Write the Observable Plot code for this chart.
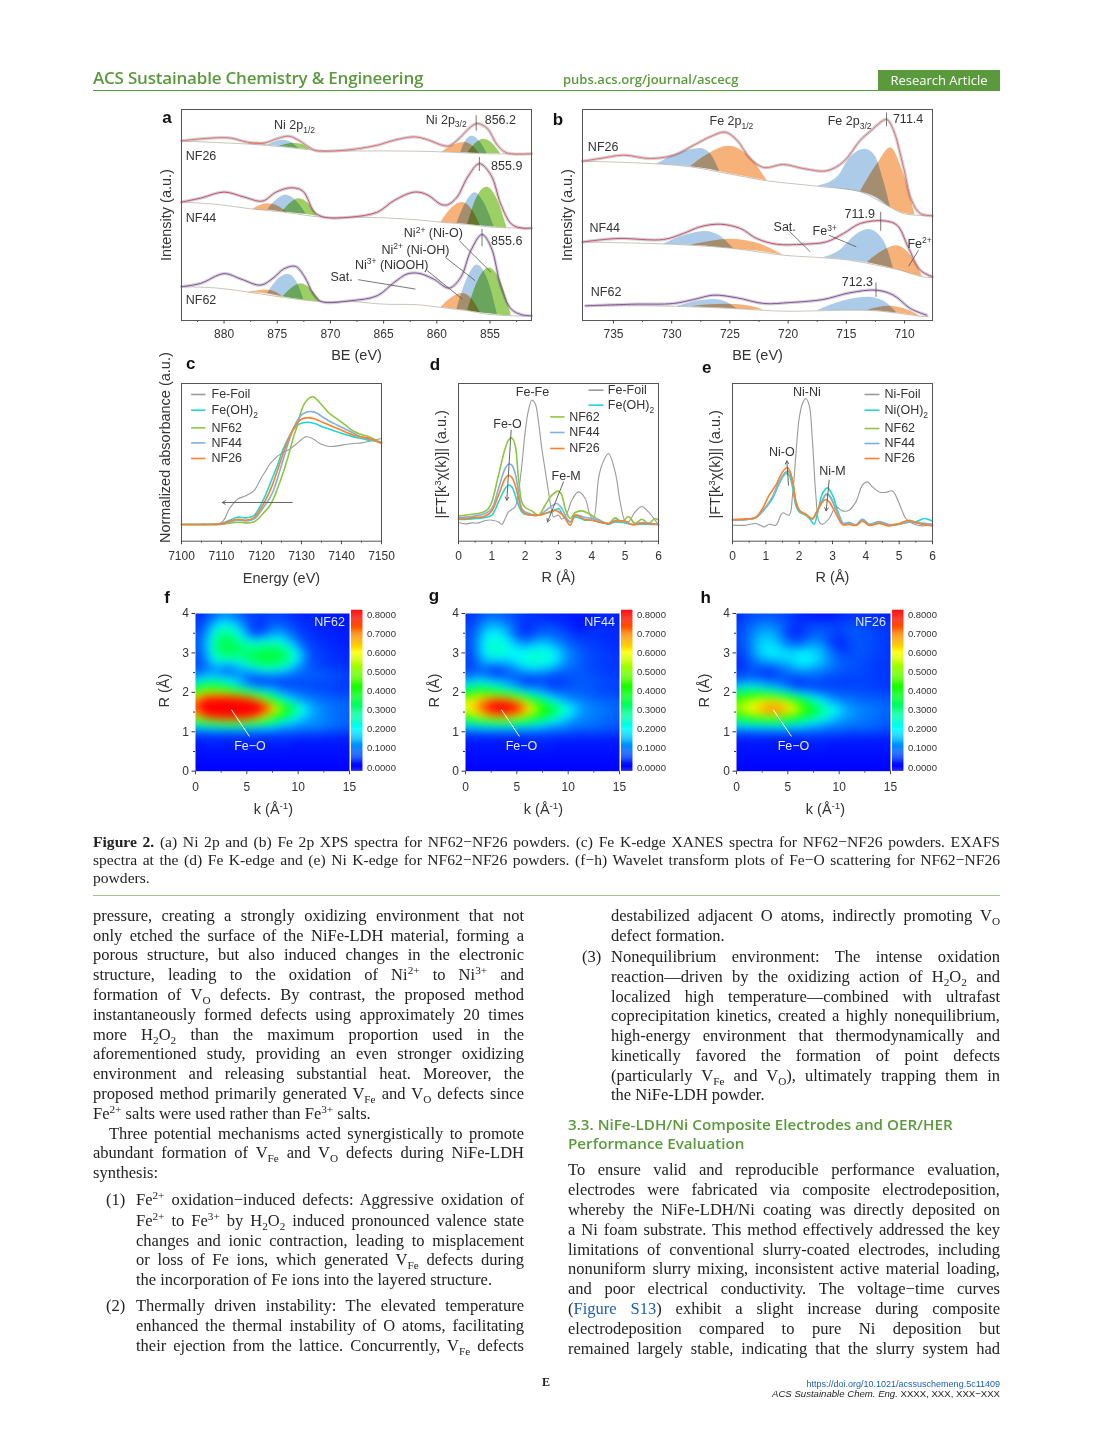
<!DOCTYPE html>
<html><head><meta charset="utf-8">
<script src="https://cdn.jsdelivr.net/npm/d3@7"></script>
<script src="https://cdn.jsdelivr.net/npm/@observablehq/plot@0.6"></script>
<style>
html,body{margin:0;padding:0;background:#fff;}
#page{position:relative;width:1094px;height:1442px;overflow:hidden;background:#fff;}
.p{position:absolute;}
.p svg{display:block;overflow:visible;}
.ln{position:absolute;white-space:nowrap;font-family:"Liberation Serif",serif;color:#222;}
.ln sub,.ln sup{font-size:.68em;line-height:0;}
.j{text-align:justify;text-align-last:justify;}
.let{position:absolute;font:bold 17px "Liberation Sans",sans-serif;color:#111;transform:translate(-50%,-50%);}
</style></head><body><div id="page"></div>
<script>
/* ---------- panel a: Ni 2p XPS, [BE, intensity] or [BE, background, peak top] ---------- */
const ni62Env=[[884,33.7],[882.2,37],[880,46.7],[878.4,41.3],[876.55,35.3],[875.3,43],[874.4,51.3],[873.3,54],[872.5,44.7],[871.5,24.7],[870.8,18.7],[868.1,19.7],[865.6,24.7],[864,38],[862.8,46.3],[861.7,47],[860.3,41.3],[858.85,32.3],[857.75,43],[856.8,69.7],[855.75,85.7],[854.9,73],[853.95,33],[853,11.3],[852,5.7],[851.1,4.7]];
const ni62Base=[[884,33.7],[880.6,32.3],[877.5,28],[874.4,23],[870.8,18.7],[868.1,19],[865,16.3],[861.8,15.7],[859.6,13],[857.1,9.7],[855.25,6.3],[853,4.7],[851.1,4.7]];
const ni62Blue1=[[875.9,27,27],[875,25,40],[874,23,46],[873.2,21.7,39],[872.5,20.7,20.7]];
const ni62Green1=[[874.5,23.3,23.3],[873.6,21.9,32.5],[872.7,20.5,36.7],[871.9,19.5,31.9],[870.9,18.7,18.7]];
const ni62Orange1=[[877.8,28,28],[876.9,27.3,29.5],[876,26.5,30.5],[875.2,25,28.5],[874.4,23,23]];
const ni62Blue2=[[858.1,11.3,11.3],[857.1,9.7,42.5],[856.2,8.3,55.3],[855.25,7,41.8],[854.3,6,6]];
const ni62Green2=[[857.1,9.7,9.7],[856.1,8,39.9],[855.1,6.7,52.3],[854,5.3,39],[853,4.7,4.7]];
const ni62Orange2=[[859.6,13,13],[858.6,11.8,22.7],[857.6,10.5,27],[856.75,9.3,22],[855.9,7.7,7.7]];

const ni44Env=[[884,118],[882.2,122],[880,128],[878.1,123],[876.4,119],[875.1,128],[873.7,132.3],[872.6,129],[871.5,108],[870.6,103],[868.1,103],[865.6,108],[864,119.7],[862.1,128],[860.9,125.3],[859.6,115.7],[859,115.3],[858.1,123],[857.1,143],[856,156.3],[854.9,144.7],[854,116.3],[853,96.3],[852.1,92.3],[851.1,92]];
const ni44Base=[[884,118],[880.6,115.7],[877.5,111.3],[874.4,108],[870.8,103],[868.1,103],[865,102.3],[861.8,100.3],[859.6,98],[857.1,95.7],[854.9,93],[853,92.3],[851.1,92]];
const ni44Blue1=[[875.9,110.3,110.3],[875,109,120.5],[874.2,108,125],[873.3,107,120],[872.3,106.3,106.3]];
const ni44Green1=[[874.5,108.3,108.3],[873.7,107.5,117.4],[873,106.5,121.3],[872.1,105.5,116.9],[871.2,104,104]];
const ni44Orange1=[[877.3,111,111],[876.6,110,114.5],[875.9,109.7,116.3],[875,109,114.2],[874,107.3,107.3]];
const ni44Blue2=[[858.1,97,97],[857.2,96,118.5],[856.4,95,127.3],[855.6,94,118],[854.6,93,93]];
const ni44Green2=[[857.1,95.7,95.7],[856.25,94.7,122],[855.3,94,132.7],[854.35,93,121.6],[853.4,92.3,92.3]];
const ni44Orange2=[[859.6,98,98],[858.6,97,112],[857.6,96.3,117.7],[856.75,95.5,111.5],[855.9,94.5,94.5]];

const ni26Env=[[884,179],[882.2,181],[879.5,182],[877.8,177.7],[876.2,177],[875,181.3],[873.9,183.7],[873,179.7],[871.5,169.7],[870.6,168.7],[868.1,170.3],[865.6,174.7],[864,179.7],[862.1,183],[860.9,180.3],[859.5,174.7],[858.85,174],[857.75,183],[857,191.3],[856.2,196.3],[855.25,191.3],[854.3,174.7],[853.4,167],[851.1,166.3]];
const ni26Base=[[884,179],[880.6,177.3],[877.5,175.7],[874.4,173],[871.5,169.7],[868.1,169],[865,169],[861.8,168.7],[859.3,168],[855.6,166.3],[851.1,166]];
const ni26Blue1=[[875.9,174.7,174.7],[875.2,173.8,178],[874.5,173,179.7],[873.7,172.3,177.6],[873,171.3,171.3]];
const ni26Green1=[[874.8,173.3,173.3],[874.1,172.7,175.6],[873.4,172,176.7],[872.6,171,175.1],[871.9,170,170]];
const ni26Orange1=[[877.8,175.9,175.9],[877.3,175.6,176.6],[876.9,175.4,177],[876.2,175,176],[875.6,174.5,174.5]];
const ni26Blue2=[[857.75,167.3,167.3],[857.3,167,179],[856.7,166.8,183.7],[856,166.5,178.9],[855.25,166,166]];
const ni26Green2=[[857.1,167,167],[856.3,166.6,176.8],[855.6,166.4,180.7],[854.8,166.3,176.7],[854,166.2,166.2]];
const ni26Orange2=[[859.5,168,168],[858.45,167.5,174.6],[857.4,167.2,177.3],[856.7,167,174.4],[856,166.5,166.5]];

/* ---------- panel b: Fe 2p XPS ---------- */
const fe26Env=[[737.66,159.3],[736.15,162],[734.15,165.3],[731.85,162],[729.85,165.3],[728.1,175.3],[726.7,183.7],[725.4,188.3],[724.4,180.3],[723.25,162],[722.1,153],[720.4,156],[718.7,152],[716.7,149.7],[715.25,158.7],[713.8,180.3],[713,188.7],[711.8,200.3],[711.5,201],[710.95,190.3],[710.1,153.7],[709.4,120.3],[708.65,107],[707.6,104.7]];
const fe26Base=[[737.66,159.3],[731.85,157],[728.4,153.7],[725.25,147],[721.8,139.7],[717.5,134.3],[713.8,128.7],[711.8,117],[710.1,107],[708.95,105.3],[707.6,104.7]];
const fe26Blue1=[[731.3,156.3,156.3],[729.4,155,167],[727.55,152.5,172],[726.7,151,167],[725.85,148.5,148.5]];
const fe26Orange1=[[728.4,153.7,153.7],[726.7,151,167.5],[725.1,147,174.3],[723.5,143.5,165.7],[721.8,139.7,139.7]];
const fe26Blue2=[[717.5,134.3,134.3],[715.8,132,143],[714.65,130,163],[713.4,127,171.3],[712.55,123,165],[711.8,117,140],[711.2,113,113]];
const fe26Orange2=[[713.8,128.7,128.7],[712.25,122,158],[711.2,113,172.7],[710.3,108,154],[709.1,105.5,105.5]];

const fe44Env=[[737.66,78.5],[734.7,82],[730.7,81],[729,87],[727.55,93.7],[725.85,96.3],[724.1,92],[722.7,82],[721,76.3],[718.7,76.3],[716.7,78.7],[715.25,87],[713.8,97],[711.8,99.7],[710.65,95.3],[709.7,73.7],[708.65,50.3],[707.6,43.7]];
const fe44Base=[[737.66,78.5],[731.85,77],[728.4,75.3],[724.7,72],[720.4,65.3],[717,62.7],[714.7,60.3],[712.4,55.3],[710.4,50.3],[708.45,43.7],[707.6,43]];
const fe44Blue1=[[730.7,76.3,76.3],[728.85,75.5,85],[727.1,74.5,89],[725.85,73,84.5],[724.7,72,72]];
const fe44Orange1=[[728.4,75.3,75.3],[726.7,74,79],[725,72,81.3],[722.7,69.5,77.5],[720.4,65.3,65.3]];
const fe44Blue2=[[717,62.7,62.7],[715.25,61,73],[714.7,60.3,80],[713.1,57.5,91],[711.8,54.5,80],[710.95,52,52]];
const fe44Orange2=[[713.2,58,58],[711.95,54.5,69],[710.65,51,74.7],[709.55,47,66],[708.45,43.7,43.7]];

const fe62Env=[[737.4,14.7],[733.3,16.3],[729.85,17],[728.1,21],[726.4,25.3],[724.4,22.7],[722.1,17],[719.8,18],[717,21],[714.7,27.7],[712.4,30.3],[710.95,25.3],[709.5,12],[708.1,5.3]];
const fe62Base=[[737.4,14.7],[731.85,14.7],[728.4,13.7],[724.7,12],[720.4,9.3],[717.5,9.7],[714.7,10.3],[712.4,9.7],[710.4,7],[708.65,4.3],[707.95,3.7]];
const fe62Blue1=[[729.55,14,14],[728,13.5,18.8],[726.4,13,21],[725.4,12.5,18.7],[724.4,11.7,11.7]];
const fe62Orange1=[[728.4,13.7,13.7],[727,13,15.5],[725.25,12,16.3],[723.6,11,15],[722.1,10.5,10.5]];
const fe62Blue2=[[717.5,9.7,9.7],[715.25,10,19.5],[713.1,10,23.3],[711.8,9,19.5],[710.65,7.5,7.5]];
const fe62Orange2=[[713.2,10,10],[712.25,9.6,13],[711.2,8.3,14.3],[710.1,6.7,12],[708.65,4.3,4.3]];

/* ---------- panel c: XANES ---------- */
const xanesE=[7100,7105,7110,7112,7114,7116,7118,7119,7120,7121,7122,7123,7124,7125,7126,7127,7128,7129,7130,7131,7132,7133,7134,7135,7137,7139,7141,7143,7145,7147,7150];
const xanesFoil=[16.7,17,18.7,32.7,42,45.3,50,56,63.7,70,76.7,81,85,87.7,90,92,95,98,101.7,104.3,104,102,99.3,97,94.7,95.3,96.7,97.7,98.3,100,102.7];
const xanesOH=[16.7,16.7,17.7,21,24,23.3,25.3,30.3,37.7,46,56,66,76,87.7,97,105.3,111.7,116,118,118.7,118.7,118,116.7,114.7,112,109.3,106.7,104.3,102.7,101,99.3];
const xanes62=[16.7,16.7,17,18,19,18.3,19.3,21.7,26,30.3,35,42.7,52.7,63.7,76,89.3,104.3,116,131,139.3,143.3,144.3,141,136.7,127.7,122,116,110,106.7,104.3,98.3];
const xanes44=[16.7,16.7,17,19,21,20.3,22,25.3,31,36.7,42.7,51,62.7,76,89.3,102,112.7,121,126.3,128.7,129.7,129.3,127.7,125,120,116,112,108,104.3,102,98.3];
const xanes26=[16.7,16.7,17.3,20,22,21,23.3,27.7,33.7,41,49.3,59.3,71,82.7,94.3,104.3,112.7,118.7,122,123.3,123.3,122.7,121.3,119.3,116,112.7,109.3,106,104.3,102.7,97.7];

/* ---------- panel d: Fe EXAFS, [R, magnitude] ---------- */
const dFoil=[[0,18.7],[.2,17.3],[.4,18.3],[.6,18.3],[.8,20.7],[1,21],[1.2,19.3],[1.3,16.7],[1.4,22.7],[1.5,29.3],[1.6,31.7],[1.7,34.3],[1.8,49.3],[1.9,76],[2,109.3],[2.1,131],[2.2,141],[2.3,137.7],[2.4,119.3],[2.5,92.7],[2.6,71],[2.7,49.3],[2.8,29.3],[2.85,24.3],[3,26],[3.1,22],[3.25,27.7],[3.4,41],[3.6,49.3],[3.8,42.7],[3.95,26],[4.05,22.7],[4.2,62.7],[4.3,76],[4.5,87.7],[4.7,69.3],[4.85,39.3],[5,20],[5.1,19.5],[5.3,29.3],[5.5,34.7],[5.7,29.3],[5.9,21],[6,16]];
const dOH=[[0,21.7],[.4,22.3],[.8,23.7],[1,26],[1.2,39.3],[1.4,52.7],[1.5,56],[1.6,54.3],[1.7,46],[1.8,36],[1.9,29.3],[2,27],[2.2,26],[2.4,26],[2.6,27.7],[2.8,29.3],[3,32.7],[3.1,27.7],[3.2,22.7],[3.35,19.3],[3.5,24.3],[3.8,21],[4,21],[4.2,19.3],[4.5,17],[4.7,19.3],[5,18.3],[5.2,16.7],[5.5,17],[6,16.7]];
const d62=[[0,25.3],[.2,26],[.4,27],[.6,27.7],[.8,30],[.9,32.7],[1,39.3],[1.2,66],[1.4,92.7],[1.5,101],[1.6,103.3],[1.7,96],[1.8,62.7],[1.9,39.3],[2,33.7],[2.2,30.3],[2.4,26],[2.6,36],[2.8,46],[3,50],[3.1,46],[3.2,32.7],[3.35,22.7],[3.5,28.7],[3.7,30.3],[3.9,27.7],[4.2,21.7],[4.5,17.7],[4.7,23.3],[4.9,19.3],[5.1,24.7],[5.3,17.7],[5.5,22],[5.7,17.7],[5.9,22.7],[6,21]];
const d44=[[0,23.7],[.4,24.7],[.8,27.7],[1,32.7],[1.2,52.7],[1.4,72.7],[1.5,77],[1.6,76],[1.7,67.7],[1.8,49.3],[1.9,32.7],[2,29.3],[2.2,27],[2.4,26],[2.6,30],[2.8,35.3],[2.95,37.7],[3.1,32.7],[3.2,26],[3.35,19.3],[3.5,26],[3.8,23.7],[4,22.7],[4.2,21],[4.5,17.7],[4.7,21],[5,19.3],[5.2,16.7],[5.5,18.7],[6,16.7]];
const d26=[[0,22.3],[.4,23.3],[.8,25.3],[1,30.3],[1.2,46],[1.4,62.7],[1.5,66],[1.6,63.7],[1.7,56],[1.8,42.7],[1.9,31],[2,27.7],[2.2,26],[2.4,26],[2.6,27.7],[2.8,30.3],[2.9,31],[3.1,27],[3.2,22.7],[3.35,16],[3.5,26],[3.8,21.7],[4,21],[4.2,19.3],[4.5,17.7],[4.7,20],[5,20],[5.2,16.7],[5.5,17.7],[6,16.7]];

/* ---------- panel e: Ni EXAFS ---------- */
const eFoil=[[0,16],[.4,16],[.7,17.7],[.95,14.3],[1.1,17],[1.3,16],[1.5,28.3],[1.7,26],[1.8,46],[1.9,86],[2,122.7],[2.1,137.7],[2.2,142.7],[2.3,136],[2.4,99.3],[2.5,46],[2.6,19.3],[2.7,17],[2.9,22.7],[3.1,34.3],[3.3,30.3],[3.5,31],[3.7,39.3],[3.9,56],[4.05,59.3],[4.2,54.3],[4.4,49.3],[4.6,48.7],[4.8,50.3],[5,37.7],[5.2,22.7],[5.4,17.7],[5.7,15.3],[6,17.7]];
const eOH=[[0,21],[.4,21.7],[.7,23.7],[1,33.7],[1.2,42.7],[1.4,57.7],[1.6,67.7],[1.7,66],[1.8,54.3],[1.9,36],[2,29.3],[2.2,26],[2.35,21],[2.45,17],[2.55,27.7],[2.7,47.7],[2.85,53.3],[3,46],[3.2,26],[3.35,16.7],[3.5,18.7],[3.7,16],[3.9,22],[4.1,17],[4.4,19.3],[4.7,16],[5,17],[5.3,19.3],[5.5,19.3],[5.75,22.7],[6,20]];
const e62=[[0,21],[.4,21.7],[.7,23.7],[1,34.3],[1.2,44.3],[1.4,59.3],[1.6,68.7],[1.7,69.3],[1.8,59.3],[1.9,39.3],[2,31],[2.2,26],[2.4,22],[2.5,27.7],[2.7,41],[2.8,47],[2.9,46],[3.1,32.7],[3.3,17.7],[3.5,17.7],[3.7,16],[3.9,21],[4.1,16],[4.4,18.7],[4.7,16],[5,16.7],[5.3,19.3],[5.6,17.7],[6,16]];
const e44=[[0,21],[.4,21.7],[.7,23.7],[1,34],[1.2,44],[1.4,59],[1.6,69.3],[1.7,70],[1.8,60],[1.9,40],[2,31.3],[2.2,26.3],[2.4,22.3],[2.5,27.3],[2.7,40.7],[2.8,46.3],[2.9,45.3],[3.1,32],[3.3,18],[3.5,18.7],[3.7,16.3],[3.9,22],[4.1,17],[4.4,19.7],[4.7,16.7],[5,17.3],[5.3,19],[5.6,18.3],[6,16.7]];
const e26=[[0,21.7],[.4,22.3],[.7,24],[.9,32.7],[1.1,46],[1.3,56],[1.5,69.3],[1.65,73.7],[1.8,61],[1.9,39.3],[2,31],[2.2,27],[2.4,22.7],[2.5,27.7],[2.7,39.3],[2.8,41.7],[2.9,39.3],[3.1,27.7],[3.3,16.7],[3.5,16.7],[3.7,15.7],[3.9,20],[4.1,15.7],[4.4,17.7],[4.7,15.3],[5,17.7],[5.3,21],[5.6,17.7],[6,15.3]];

/* ---------- panels f-h: wavelet magnitude, rows top to bottom, columns by k ---------- */
const kGrid=[0,1,2,3,4,5,6,7,8,9,10,11,12,13,15];
const rF=[4,3.75,3.5,3.25,3,2.75,2.6,2.4,2.2,2,1.8,1.6,1.4,1.2,1,.8,.4,0];
const zF=[
[.03,.05,.08,.10,.08,.05,.05,.05,.05,.04,.03,.03,.02,.02,.01],
[.04,.08,.16,.19,.14,.07,.04,.06,.07,.06,.04,.03,.03,.02,.02],
[.05,.11,.26,.31,.24,.10,.03,.09,.13,.10,.06,.04,.03,.03,.02],
[.06,.13,.31,.35,.32,.26,.24,.26,.26,.18,.10,.05,.04,.03,.02],
[.05,.12,.29,.34,.33,.33,.35,.36,.36,.31,.19,.07,.05,.04,.03],
[.05,.09,.20,.18,.21,.28,.33,.35,.33,.28,.15,.07,.05,.04,.03],
[.06,.09,.11,.06,.10,.15,.21,.24,.21,.16,.10,.07,.06,.05,.04],
[.11,.15,.15,.13,.12,.08,.07,.08,.08,.08,.08,.08,.08,.07,.05],
[.24,.33,.33,.26,.18,.09,.04,.05,.05,.05,.05,.05,.05,.05,.04],
[.44,.56,.54,.52,.45,.36,.28,.22,.14,.10,.09,.08,.07,.06,.05],
[.68,.85,.90,.92,.92,.88,.72,.50,.32,.19,.12,.10,.09,.08,.07],
[.72,.90,.95,.95,.95,.95,.92,.82,.60,.42,.28,.16,.12,.10,.08],
[.60,.78,.88,.92,.92,.86,.72,.54,.41,.31,.20,.14,.11,.09,.07],
[.26,.31,.34,.36,.37,.35,.30,.26,.21,.16,.13,.12,.12,.10,.08],
[.07,.07,.07,.07,.07,.07,.07,.07,.07,.07,.07,.07,.07,.06,.05],
[.02,.03,.03,.03,.03,.03,.03,.03,.03,.03,.02,.02,.02,.02,.02],
[.01,.01,.01,.01,.01,.01,.01,.01,.01,.01,.01,.01,.01,.01,.01],
[0,0,0,0,0,0,0,0,0,0,0,0,0,0,0]];
const rG=[4,3.75,3.5,3.25,3,2.75,2.55,2.4,2.2,2,1.8,1.6,1.4,1.2,1,.8,.4,0];
const zG=[
[.03,.05,.07,.07,.06,.05,.04,.03,.02,.02,.02,.02,.02,.03,.02],
[.04,.07,.12,.13,.10,.06,.04,.05,.05,.04,.03,.01,.02,.03,.03],
[.05,.09,.18,.20,.15,.05,.03,.07,.08,.07,.05,.03,.04,.04,.03],
[.05,.10,.22,.25,.21,.14,.11,.15,.15,.11,.08,.06,.05,.04,.03],
[.04,.09,.21,.25,.23,.21,.23,.24,.23,.18,.11,.08,.06,.05,.04],
[.04,.07,.13,.13,.14,.18,.23,.24,.22,.16,.10,.08,.06,.05,.04],
[.05,.07,.07,.03,.07,.10,.14,.14,.12,.09,.08,.07,.06,.05,.04],
[.09,.11,.10,.07,.08,.07,.06,.07,.06,.05,.06,.07,.07,.06,.05],
[.18,.24,.24,.19,.14,.08,.03,.06,.05,.04,.06,.07,.07,.06,.05],
[.36,.44,.42,.39,.33,.27,.20,.15,.10,.08,.08,.08,.07,.06,.05],
[.55,.64,.70,.76,.74,.65,.50,.36,.24,.16,.11,.10,.09,.08,.07],
[.58,.67,.78,.88,.90,.84,.70,.53,.41,.32,.22,.14,.11,.10,.08],
[.47,.56,.63,.68,.68,.62,.51,.41,.33,.26,.18,.12,.10,.09,.07],
[.21,.24,.27,.28,.29,.27,.24,.21,.17,.14,.11,.10,.10,.09,.07],
[.07,.07,.07,.07,.07,.07,.07,.07,.07,.07,.07,.06,.06,.06,.05],
[.02,.02,.02,.02,.02,.02,.03,.03,.03,.02,.02,.02,.02,.02,.02],
[.01,.01,.01,.01,.01,.01,.01,.01,.01,.01,.01,.01,.01,.01,.01],
[0,0,0,0,0,0,0,0,0,0,0,0,0,0,0]];
const rH=[4,3.75,3.5,3.25,3,2.75,2.5,2.3,2.15,2,1.8,1.55,1.4,1.2,1,.8,.4,0];
const zH=[
[.03,.05,.06,.06,.06,.05,.03,.02,.01,.01,.02,.03,.03,.03,.02],
[.04,.07,.09,.10,.08,.06,.04,.05,.05,.05,.05,.06,.06,.05,.04],
[.05,.08,.13,.15,.12,.04,.03,.06,.08,.07,.05,.07,.07,.06,.04],
[.05,.08,.15,.18,.15,.09,.06,.11,.12,.06,.02,.05,.07,.06,.04],
[.04,.07,.15,.20,.20,.19,.19,.19,.17,.11,.06,.06,.07,.06,.04],
[.03,.05,.09,.11,.13,.15,.19,.20,.16,.11,.08,.07,.06,.05,.04],
[.04,.06,.05,.02,.05,.08,.10,.10,.09,.08,.07,.06,.06,.05,.04],
[.08,.10,.10,.08,.08,.06,.05,.06,.06,.05,.05,.05,.05,.05,.04],
[.15,.19,.19,.15,.12,.07,.02,.05,.05,.05,.05,.05,.05,.05,.04],
[.31,.35,.35,.32,.27,.22,.15,.12,.09,.08,.07,.07,.07,.06,.05],
[.47,.52,.56,.60,.59,.52,.42,.30,.20,.13,.10,.09,.08,.08,.07],
[.51,.58,.65,.72,.73,.67,.56,.44,.34,.26,.18,.13,.11,.10,.08],
[.41,.47,.51,.53,.53,.48,.41,.33,.27,.21,.15,.12,.10,.09,.07],
[.21,.23,.25,.25,.26,.24,.22,.18,.16,.12,.11,.10,.10,.09,.07],
[.07,.07,.07,.07,.07,.07,.07,.07,.07,.07,.07,.06,.06,.06,.05],
[.02,.02,.02,.02,.02,.02,.02,.03,.03,.02,.02,.02,.02,.02,.02],
[.01,.01,.01,.01,.01,.01,.01,.01,.01,.01,.01,.01,.01,.01,.01],
[0,0,0,0,0,0,0,0,0,0,0,0,0,0,0]];
const barTicks=[0,.1,.2,.3,.4,.5,.6,.7,.8];
const barLevels=d3.range(-.02,.825,.005);

/* ---------- helpers ---------- */
const page=document.getElementById("page");
const cBlue="#9fc4e6",cOrange="#f6a766",cGreen="#8fca4e";
const cLGreen="#8dc63f",cLBlue="#7fb0e0",cLOrange="#ff7f2a",cLCyan="#1fd6d6",cLGray="#9a9a9a";
const X=d=>d[0],Y=d=>d[1],Y2=d=>d[2];
const rich=svg=>{svg.querySelectorAll("text").forEach(t=>{
  const s=t.textContent; if(!/[\^_]\{/.test(s))return;
  const fs=parseFloat(getComputedStyle(t).fontSize);
  t.textContent="";
  let pending=0;
  s.split(/([\^_]\{[^}]*\})/).filter(x=>x).forEach(part=>{
    const ts=document.createElementNS("http://www.w3.org/2000/svg","tspan");
    const m=part.match(/^([\^_])\{(.*)\}$/);
    if(m){const sh=m[1]=="^"?-fs*.36:fs*.28;ts.textContent=m[2];ts.setAttribute("font-size",fs*.68);ts.setAttribute("dy",sh+pending);pending=-sh;}
    else{ts.textContent=part;ts.setAttribute("dy",pending);pending=0;}
    t.appendChild(ts);
  });
});};
function panel(L,T,W,H,opts,marks,mL=45,mR=12,mB=50,mT=12){
  const svg=Plot.plot({width:W+mL+mR,height:H+mT+mB,marginLeft:mL,marginRight:mR,marginTop:mT,marginBottom:mB,
    style:{background:"transparent",fontFamily:"'Liberation Sans',Arial,sans-serif",color:"#333",overflow:"visible"},...opts,marks});
  const d=document.createElement("div");d.className="p";d.style.left=(L-mL)+"px";d.style.top=(T-mT)+"px";
  d.appendChild(svg);page.appendChild(d);rich(svg);
}
const axB=(major,minor,pad=5.5)=>[
  Plot.axisX({ticks:minor,tickFormat:()=>"",tickSize:2,label:null,stroke:"#555"}),
  Plot.axisX({ticks:major,tickFormat:d=>String(d),tickSize:3.5,tickPadding:pad,fontSize:12,label:null,stroke:"#444",fill:"#333"})];
const titleB=(s,dy,dx=0)=>Plot.text([s],{frameAnchor:"bottom",dy,dx,fontSize:14.5,fill:"#333",textAnchor:"middle",lineAnchor:"middle"});
const titleL=(s,dx,dy=0)=>Plot.text([s],{frameAnchor:"left",dx,dy,rotate:-90,fontSize:14.5,fill:"#333",textAnchor:"middle",lineAnchor:"middle"});
const frame=()=>Plot.frame({stroke:"#555",strokeWidth:1});
const T=(items,o={})=>Plot.text(items,{x:d=>d[1],y:d=>d[2],text:X,textAnchor:"start",lineAnchor:"middle",fontSize:12.5,fill:"#333",...o});
const seg=(items,o={})=>Plot.link(items,{x1:X,y1:Y,x2:Y2,y2:d=>d[3],stroke:"#555",strokeWidth:.8,...o});
const arr=(items,o={})=>Plot.arrow(items,{x1:X,y1:Y,x2:Y2,y2:d=>d[3],stroke:"#555",strokeWidth:.9,headLength:6,...o});
const peak=(rows,fill)=>Plot.areaY(rows,{x:X,y1:Y,y2:Y2,fill,fillOpacity:.88,curve:"monotone-x",mixBlendMode:"multiply"});
const spectrum=(env,base,peaks,color)=>[
  Plot.line(env,{x:X,y:Y,stroke:"#d2d2d2",strokeWidth:3.2,strokeDasharray:"1.6 .8",curve:"catmull-rom"}),
  ...peaks,
  Plot.line(base,{x:X,y:Y,stroke:"#a89c90",strokeWidth:.6,curve:"catmull-rom"}),
  Plot.line(env,{x:X,y:Y,stroke:color,strokeWidth:1,curve:"catmull-rom"})];
const series=(xs,ys,stroke,w=1.6)=>Plot.line(xs.map((x,i)=>[x,ys[i]]),{x:X,y:Y,stroke,strokeWidth:w,curve:"catmull-rom"});
const pair=(rows,stroke,w=1.6)=>Plot.line(rows,{x:X,y:Y,stroke,strokeWidth:w,curve:"catmull-rom"});
const legend=(rows,x1,x2,xt)=>[
  Plot.link(rows,{x1:()=>x1,x2:()=>x2,y1:Y,y2:Y,stroke:Y2,strokeWidth:1.6}),
  Plot.text(rows,{x:()=>xt,y:Y,text:X,textAnchor:"start",lineAnchor:"middle",fontSize:12.5,fill:"#333"})];

/* ---------- panel a ---------- */
panel(181,109,350,211,{x:{domain:[884,851.1]},y:{domain:[0,210.3],axis:null}},[
  ...spectrum(ni62Env,ni62Base,[peak(ni62Orange1,cOrange),peak(ni62Blue1,cBlue),peak(ni62Green1,cGreen),peak(ni62Orange2,cOrange),peak(ni62Blue2,cBlue),peak(ni62Green2,cGreen)],"#8a4fa8"),
  ...spectrum(ni44Env,ni44Base,[peak(ni44Orange1,cOrange),peak(ni44Blue1,cBlue),peak(ni44Green1,cGreen),peak(ni44Orange2,cOrange),peak(ni44Blue2,cBlue),peak(ni44Green2,cGreen)],"#cf4f72"),
  ...spectrum(ni26Env,ni26Base,[peak(ni26Orange1,cOrange),peak(ni26Blue1,cBlue),peak(ni26Green1,cGreen),peak(ni26Orange2,cOrange),peak(ni26Blue2,cBlue),peak(ni26Green2,cGreen)],"#ea6f76"),
  seg([[856.3,204.7,856.3,189],[856,163,856,149],[855.75,91.3,855.75,74],[867.4,40.7,862,31.3],[857.9,79.7,854.9,48],[859.2,63,856.4,39.7],[860.9,49.7,857.6,21.3]]),
  T([["Ni 2p_{1/2}",875.3,194.7],["Ni 2p_{3/2}",861.05,200.3],["856.2",855.5,199.7],["NF26",883.6,164],["855.9",854.9,153.7],["NF44",883.6,102.3],["Ni^{2+} (Ni-O)",863.1,87],["Ni^{2+} (Ni-OH)",865.2,70.7],["Ni^{3+} (NiOOH)",867.7,55.7],["Sat.",870,43],["855.6",854.9,79.7],["NF62",883.6,20.3]]),
  frame(),...axB([880,875,870,865,860,855],[882.5,877.5,872.5,867.5,862.5,857.5,852.5]),
  titleB("BE (eV)",35),titleL("Intensity (a.u.)",-15.5)]);

/* ---------- panel b ---------- */
panel(582.3,109.3,350,211,{x:{domain:[737.66,707.6]},y:{domain:[0,211],axis:null}},[
  ...spectrum(fe62Env,fe62Base,[peak(fe62Blue1,cBlue),peak(fe62Orange1,cOrange),peak(fe62Blue2,cBlue),peak(fe62Orange2,cOrange)],"#8a4fa8"),
  ...spectrum(fe44Env,fe44Base,[peak(fe44Blue1,cBlue),peak(fe44Orange1,cOrange),peak(fe44Blue2,cBlue),peak(fe44Orange2,cOrange)],"#cf4f72"),
  ...spectrum(fe26Env,fe26Base,[peak(fe26Blue1,cBlue),peak(fe26Orange1,cOrange),peak(fe26Blue2,cBlue),peak(fe26Orange2,cOrange)],"#ea6f76"),
  seg([[711.55,208,711.55,194.3],[712.05,108.7,712.05,89.7],[712.45,38,712.45,23.7],[719.9,89.3,718.1,68.7],[716.5,85.3,714.15,73.7],[708.8,70.3,709.65,54.3]]),
  T([["Fe 2p_{1/2}",726.75,199.3],["Fe 2p_{3/2}",716.6,199.3],["711.4",711,202],["NF26",737.2,173.7],["711.9",715.15,107],["NF44",737.06,92.7],["Sat.",721.25,93.7],["Fe^{3+}",717.9,89.3],["Fe^{2+}",709.75,77],["712.3",715.4,38.7],["NF62",736.95,28.7]]),
  frame(),...axB([735,730,725,720,715,710],[732.5,727.5,722.5,717.5,712.5]),
  titleB("BE (eV)",35),titleL("Intensity (a.u.)",-15.6)]);

/* ---------- panel c ---------- */
panel(181,383.3,200,157.7,{x:{domain:[7100,7150]},y:{domain:[0,157.7],axis:null}},[
  series(xanesE,xanesFoil,cLGray,1.1),series(xanesE,xanesOH,cLCyan),series(xanesE,xanes62,cLGreen),series(xanesE,xanes44,cLBlue),series(xanesE,xanes26,cLOrange),
  arr([[7127.7,38.7,7110.2,38.7]]),
  ...legend([["Fe-Foil",146.7,cLGray],["Fe(OH)_{2}",131,cLCyan],["NF62",113.3,cLGreen],["NF44",98.3,cLBlue],["NF26",82.7,cLOrange]],7102.4,7106,7107.5),
  frame(),...axB([7100,7110,7120,7130,7140,7150],[7105,7115,7125,7135,7145],7),
  titleB("Energy (eV)",36.7),titleL("Normalized absorbance (a.u.)",-16,-14.7)]);

/* ---------- panel d ---------- */
panel(458.3,383.3,200,157.7,{x:{domain:[0,6]},y:{domain:[0,157.7],axis:null}},[
  pair(dFoil,cLGray,1.1),pair(dOH,cLCyan),pair(d62,cLGreen),pair(d44,cLBlue),pair(d26,cLOrange),
  arr([[1.58,111,1.45,41],[3.15,59.3,2.67,19.3]]),
  ...legend([["Fe-Foil",151,cLGray],["Fe(OH)_{2}",136,cLCyan]],3.9,4.35,4.48),
  ...legend([["NF62",124.3,cLGreen],["NF44",108.7,cLBlue],["NF26",92.7,cLOrange]],2.75,3.18,3.32),
  T([["Fe-Fe",2.22,148.7],["Fe-O",1.47,117],["Fe-M",3.23,65]],{textAnchor:"middle"}),
  frame(),...axB([0,1,2,3,4,5,6],[.5,1.5,2.5,3.5,4.5,5.5],7),
  titleB("R (Å)",36),titleL("|FT[k^{3}χ(k)]| (a.u.)",-17.3,2)]);

/* ---------- panel e ---------- */
panel(732.3,383.3,200,157.7,{x:{domain:[0,6]},y:{domain:[0,157.7],axis:null}},[
  pair(eFoil,cLGray,1.1),pair(eOH,cLCyan),pair(e62,cLGreen),pair(e44,cLBlue),pair(e26,cLOrange),
  arr([[1.68,56,1.63,80.3],[2.9,61,2.81,30.3]]),
  ...legend([["Ni-Foil",146.7,cLGray],["Ni(OH)_{2}",131,cLCyan],["NF62",112.7,cLGreen],["NF44",97.7,cLBlue],["NF26",82.7,cLOrange]],3.96,4.41,4.56),
  T([["Ni-Ni",2.23,149.3],["Ni-O",1.48,88.7],["Ni-M",3,70]],{textAnchor:"middle"}),
  frame(),...axB([0,1,2,3,4,5,6],[.5,1.5,2.5,3.5,4.5,5.5],7),
  titleB("R (Å)",36),titleL("|FT[k^{3}χ(k)]| (a.u.)",-17.3,2)]);

/* ---------- panels f-h ---------- */
const colorScale={type:"linear",domain:[0,.2,.4,.6,.8],range:["#0000ff","#00ffff","#00ff00","#ffff00","#ff0000"],clamp:true};
function heat(L,rs,zs,name,xlab,yTitleDx,kLabel,k1,k2,kName){
  const pts=zs.flatMap((row,i)=>row.map((v,j)=>({k:kGrid[j],r:rs[i],v})));
  panel(L,613,154,157.7,{x:{domain:[0,15]},y:{domain:[0,4]},color:colorScale},[
    Plot.raster(pts,{x:"k",y:"r",fill:"v",interpolate:"barycentric",pixelSize:1,blur:4}),
    Plot.axisY({ticks:[.5,1.5,2.5,3.5],tickFormat:()=>"",tickSize:2,label:null}),
    Plot.axisY({ticks:[0,1,2,3,4],tickFormat:d=>String(d),tickSize:3.5,tickPadding:3,fontSize:12,label:null,fill:"#333"}),
    ...axB([0,5,10,15],[2.5,7.5,12.5],7.5),
    seg([[k1,1.56,k2,.88]],{stroke:"#fff",strokeWidth:1}),
    T([["Fe−O",kLabel,.63]],{textAnchor:"middle",fill:"#e8eeff"}),
    T([[name,kName,3.78]],{textAnchor:"end",fill:"#dfe6ff"}),
    titleB("k (Å^{-1})",38,xlab),titleL("R (Å)",yTitleDx,-1.8)]);
  panel(L+156.3,612.3,11.4,158,{x:{domain:[0,1],axis:null},y:{domain:[-.0158,.8142],axis:null},color:colorScale},[
    Plot.rect(barLevels,{x1:0,x2:1,y1:d=>d,y2:d=>d+.006,fill:d=>d}),
    Plot.axisY({anchor:"right",ticks:barTicks,tickFormat:d3.format(".4f"),tickSize:0,tickPadding:4,fontSize:9.5,label:null,fill:"#333"})],5,45,20,5);
}
heat(195,rF,zF,"NF62",1,-31,5.3,3.5,5.26,14.55);
heat(465,rG,zG,"NF44",1,-31,5.45,3.5,5.26,14.55);
heat(735.7,rH,zH,"NF26",12,-31.7,5.55,3.57,5.36,14.55);

/* ---------- panel letters ---------- */
[["a",167,118],["b",558,120],["c",190.7,364],["d",435,365],["e",706.7,368],["f",167,598],["g",434,596],["h",705.7,598]].forEach(([s,x,y])=>{
  const e=document.createElement("div");e.className="let";e.textContent=s;e.style.left=x+"px";e.style.top=y+"px";page.appendChild(e);});

/* ---------- page text ---------- */
const bodySize=16.5, capSize=15.6;
function line(x,y,w,html,just=true,size=bodySize,extra=""){
  const e=document.createElement("div");e.className="ln"+(just?" j":"");
  e.style.cssText=`left:${x}px;top:${y-9}px;height:18px;line-height:18px;font-size:${size}px;${w?`width:${w}px;`:""}${extra}`;
  e.innerHTML=html;page.appendChild(e);
}
const sans="font-family:'Open Sans',sans-serif;";
const green="#5b9a3c";
line(93,78,331,"ACS Sustainable Chemistry &amp; Engineering",false,17,sans+"font-weight:600;color:"+green+";letter-spacing:-.2px;");
line(563,79,176,"pubs.acs.org/journal/ascecg",false,13,sans+"font-weight:600;color:"+green+";");
const badge=document.createElement("div");badge.style.cssText=`position:absolute;left:878px;top:70px;width:122px;height:20px;background:${green};`;page.appendChild(badge);
line(878,79.5,122,"Research Article",false,13,sans+"color:#fff;text-align:center;");
const rule=(y,h,c)=>{const r=document.createElement("div");r.style.cssText=`position:absolute;left:93px;top:${y}px;width:907px;height:${h}px;background:${c};`;page.appendChild(r);};
rule(89.5,1.5,green);rule(894.5,1.5,"#a5c58c");

const capLines=["<b>Figure 2.</b> (a) Ni 2p and (b) Fe 2p XPS spectra for NF62−NF26 powders. (c) Fe K-edge XANES spectra for NF62−NF26 powders. EXAFS","spectra at the (d) Fe K-edge and (e) Ni K-edge for NF62−NF26 powders. (f−h) Wavelet transform plots of Fe−O scattering for NF62−NF26"];
line(93,842,907,capLines[0],true,capSize);line(93,860,907,capLines[1],true,capSize);line(93,878,0,"powders.",false,capSize);

const leftCol=[[916,"pressure, creating a strongly oxidizing environment that not"],[936,"only etched the surface of the NiFe-LDH material, forming a"],[955,"porous structure, but also induced changes in the electronic"],[975,"structure, leading to the oxidation of Ni<sup>2+</sup> to Ni<sup>3+</sup> and"],[995,"formation of V<sub>O</sub> defects. By contrast, the proposed method"],[1015,"instantaneously formed defects using approximately 20 times"],[1035,"more H<sub>2</sub>O<sub>2</sub> than the maximum proportion used in the"],[1054,"aforementioned study, providing an even stronger oxidizing"],[1074,"environment and releasing substantial heat. Moreover, the"],[1094,"proposed method primarily generated V<sub>Fe</sub> and V<sub>O</sub> defects since"]];
leftCol.forEach(([y,s])=>line(93,y,431,s));
line(93,1114,0,"Fe<sup>2+</sup> salts were used rather than Fe<sup>3+</sup> salts.",false);
line(109,1134,415,"Three potential mechanisms acted synergistically to promote");
line(93,1153,431,"abundant formation of V<sub>Fe</sub> and V<sub>O</sub> defects during NiFe-LDH");
line(93,1173,0,"synthesis:",false);
line(106,1200,0,"(1)",false);line(106,1306,0,"(2)",false);
[[1200,"Fe<sup>2+</sup> oxidation−induced defects: Aggressive oxidation of"],[1221,"Fe<sup>2+</sup> to Fe<sup>3+</sup> by H<sub>2</sub>O<sub>2</sub> induced pronounced valence state"],[1241,"changes and ionic contraction, leading to misplacement"],[1260,"or loss of Fe ions, which generated V<sub>Fe</sub> defects during"],[1306,"Thermally driven instability: The elevated temperature"],[1326,"enhanced the thermal instability of O atoms, facilitating"],[1346,"their ejection from the lattice. Concurrently, V<sub>Fe</sub> defects"]].forEach(([y,s])=>line(136,y,388,s));
line(136,1280,0,"the incorporation of Fe ions into the layered structure.",false);

line(611,916,389,"destabilized adjacent O atoms, indirectly promoting V<sub>O</sub>");
line(611,936,0,"defect formation.",false);
line(582,957,0,"(3)",false);
[[957,"Nonequilibrium environment: The intense oxidation"],[977,"reaction—driven by the oxidizing action of H<sub>2</sub>O<sub>2</sub> and"],[997,"localized high temperature—combined with ultrafast"],[1016,"coprecipitation kinetics, created a highly nonequilibrium,"],[1036,"high-energy environment that thermodynamically and"],[1056,"kinetically favored the formation of point defects"],[1076,"(particularly V<sub>Fe</sub> and V<sub>O</sub>), ultimately trapping them in"]].forEach(([y,s])=>line(611,y,389,s));
line(611,1095,0,"the NiFe-LDH powder.",false);
line(568,1125,0,"3.3. NiFe-LDH/Ni Composite Electrodes and OER/HER",false,15.2,sans+"font-weight:600;color:"+green+";line-height:17px;height:17px;");
line(568,1144,0,"Performance Evaluation",false,15.2,sans+"font-weight:600;color:"+green+";line-height:17px;height:17px;");
[[1170,"To ensure valid and reproducible performance evaluation,"],[1190,"electrodes were fabricated via composite electrodeposition,"],[1210,"whereby the NiFe-LDH/Ni coating was directly deposited on"],[1230,"a Ni foam substrate. This method effectively addressed the key"],[1250,"limitations of conventional slurry-coated electrodes, including"],[1269,"nonuniform slurry mixing, inconsistent active material loading,"],[1289,"and poor electrical conductivity. The voltage−time curves"],[1309,"(<span style='color:#1a5fb4'>Figure S13</span>) exhibit a slight increase during composite"],[1329,"electrodeposition compared to pure Ni deposition but"],[1349,"remained largely stable, indicating that the slurry system had"]].forEach(([y,s])=>line(568,y,432,s));

line(542,1382,0,"<b>E</b>",false,12,"font-family:'Liberation Serif',serif;");
line(700,1384,300,"https://doi.org/10.1021/acssuschemeng.5c11409",false,9,"font-family:'Liberation Sans',sans-serif;color:#1a5fb4;text-align:right;");
line(700,1394,300,"<i>ACS Sustainable Chem. Eng.</i> XXXX, XXX, XXX−XXX",false,9.6,"font-family:'Liberation Sans',sans-serif;text-align:right;");
</script></body></html>
